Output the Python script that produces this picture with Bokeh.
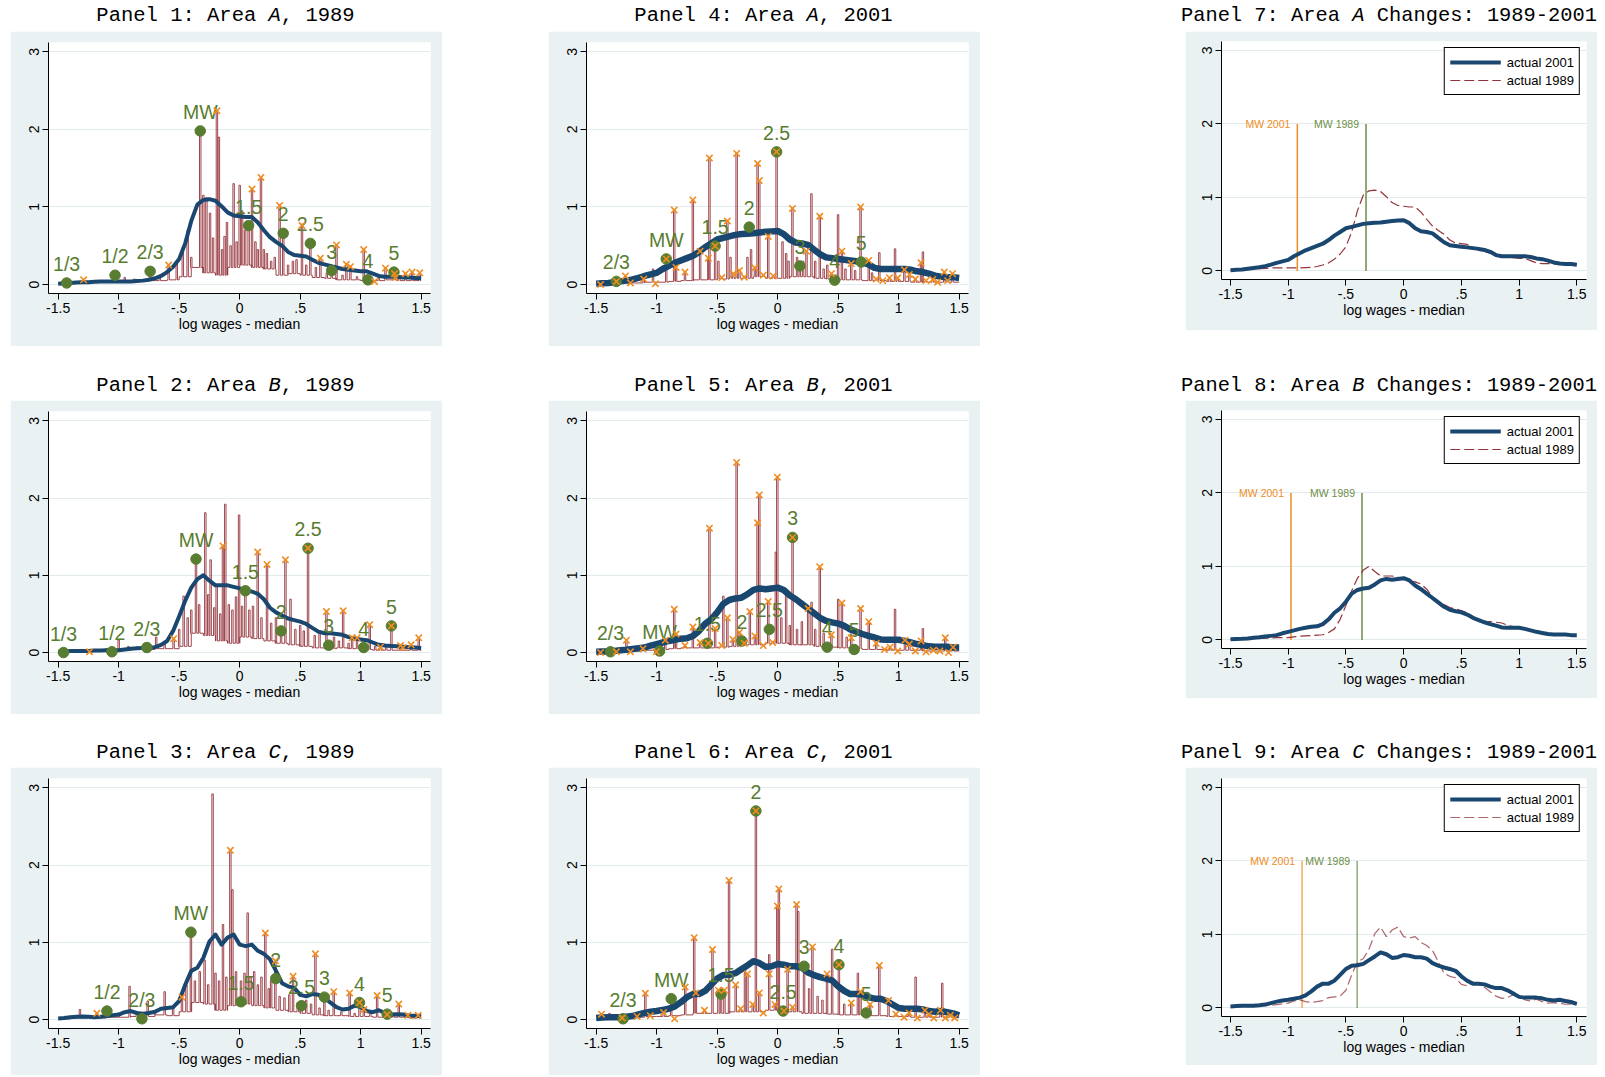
from bokeh.plotting import figure
from bokeh.layouts import row, column
from bokeh.models import (Range1d, Spacer, Legend, LegendItem, FixedTicker,
                          CustomJSTickFormatter)
from bokeh.core.properties import value
from bokeh.embed import file_html
from bokeh.resources import INLINE

# ---------------------------------------------------------------- data
X_TICKS = [-1.5, -1, -0.5, 0, 0.5, 1, 1.5]
Y_TICKS = [0, 1, 2, 3]
GRID_X = [round(-1.5 + 0.05 * i, 2) for i in range(61)]      # kernel grid
BIN_EDGES = [round(-1.5 + 0.1 * i, 1) for i in range(31)]    # histogram floor bins

# kernel densities (smooth blue lines)
KD_A89 = [0.01,0.015,0.02,0.025,0.03,0.03,0.035,0.04,0.04,0.04,0.04,
          0.04,0.04,0.045,0.05,0.06,0.08,0.11,0.16,0.23,0.33,
          0.53,0.82,1.03,1.09,1.10,1.08,1.01,0.93,0.89,0.88,
          0.87,0.87,0.80,0.70,0.61,0.55,0.50,0.42,0.38,0.37,
          0.36,0.32,0.28,0.26,0.24,0.22,0.20,0.19,0.18,0.17,
          0.17,0.14,0.11,0.10,0.10,0.10,0.09,0.09,0.085,0.08]
KD_B89 = [0.01,0.015,0.02,0.02,0.02,0.02,0.025,0.025,0.03,0.03,0.03,
          0.04,0.05,0.055,0.06,0.065,0.07,0.10,0.15,0.28,0.47,
          0.67,0.84,0.95,1.00,0.93,0.87,0.87,0.87,0.85,0.83,
          0.80,0.79,0.76,0.69,0.58,0.52,0.48,0.44,0.42,0.40,
          0.37,0.32,0.27,0.25,0.25,0.24,0.23,0.20,0.18,0.17,
          0.16,0.13,0.10,0.09,0.085,0.08,0.075,0.07,0.065,0.06]
KD_C89 = [0.015,0.02,0.03,0.035,0.04,0.035,0.03,0.035,0.045,0.055,0.065,
          0.095,0.11,0.085,0.075,0.085,0.10,0.14,0.15,0.16,0.24,
          0.45,0.63,0.67,0.80,1.01,1.10,0.97,1.06,1.10,0.97,
          0.95,0.97,0.89,0.85,0.78,0.63,0.47,0.43,0.41,0.32,
          0.30,0.33,0.32,0.28,0.22,0.16,0.13,0.14,0.18,0.16,
          0.11,0.095,0.12,0.085,0.065,0.07,0.065,0.05,0.05,0.045]
KD_A01 = [0.01,0.015,0.02,0.03,0.04,0.05,0.065,0.085,0.11,0.13,0.15,
          0.20,0.24,0.28,0.31,0.34,0.37,0.42,0.48,0.53,0.58,
          0.60,0.62,0.64,0.65,0.655,0.66,0.67,0.68,0.685,0.69,
          0.65,0.58,0.54,0.53,0.51,0.45,0.39,0.35,0.34,0.33,
          0.32,0.31,0.30,0.285,0.26,0.215,0.20,0.20,0.20,0.20,
          0.20,0.19,0.17,0.16,0.14,0.115,0.10,0.095,0.095,0.085]
KD_B01 = [0.01,0.012,0.015,0.02,0.03,0.035,0.045,0.055,0.065,0.09,0.11,
          0.13,0.15,0.165,0.18,0.185,0.215,0.28,0.37,0.43,0.52,
          0.63,0.68,0.70,0.71,0.755,0.81,0.83,0.82,0.83,0.84,
          0.81,0.74,0.69,0.63,0.57,0.51,0.45,0.41,0.39,0.375,
          0.345,0.30,0.27,0.24,0.215,0.195,0.17,0.165,0.165,0.165,
          0.15,0.13,0.11,0.095,0.08,0.075,0.075,0.075,0.065,0.065]
KD_C01 = [0.02,0.025,0.03,0.03,0.03,0.035,0.045,0.065,0.085,0.10,0.11,
          0.125,0.14,0.17,0.225,0.29,0.33,0.33,0.37,0.45,0.53,
          0.575,0.58,0.60,0.65,0.70,0.755,0.73,0.68,0.69,0.72,
          0.71,0.69,0.69,0.67,0.61,0.575,0.55,0.53,0.505,0.43,
          0.37,0.33,0.33,0.32,0.29,0.27,0.27,0.24,0.195,0.15,
          0.14,0.14,0.14,0.13,0.11,0.10,0.11,0.095,0.08,0.055]

# histogram floor (per 0.1 bin)
BASE_A89 = [0.02,0.03,0.03,0.03,0.04,0.04,0.04,0.05,0.05,0.06,0.10,0.22,0.15,0.12,0.22,
            0.25,0.22,0.20,0.12,0.14,0.12,0.09,0.08,0.06,0.06,0.05,0.05,0.06,0.05,0.05]
BASE_B89 = [0.01,0.01,0.02,0.02,0.02,0.03,0.04,0.04,0.05,0.05,0.08,0.25,0.22,0.15,0.12,
            0.20,0.18,0.15,0.12,0.10,0.08,0.06,0.05,0.06,0.05,0.04,0.03,0.03,0.03,0.03]
BASE_C89 = [0.01,0.02,0.02,0.02,0.03,0.03,0.04,0.04,0.06,0.05,0.10,0.22,0.20,0.12,0.18,
            0.20,0.18,0.15,0.12,0.10,0.08,0.06,0.05,0.05,0.04,0.04,0.03,0.03,0.03,0.02]
BASE_A01 = [0.01,0.01,0.02,0.02,0.03,0.03,0.04,0.05,0.06,0.06,0.07,0.08,0.08,0.10,0.08,
            0.08,0.10,0.10,0.08,0.07,0.06,0.06,0.05,0.05,0.04,0.04,0.03,0.03,0.03,0.03]
BASE_B01 = [0.01,0.01,0.02,0.02,0.03,0.04,0.05,0.06,0.06,0.06,0.07,0.08,0.10,0.10,0.12,
            0.12,0.10,0.10,0.08,0.07,0.06,0.05,0.04,0.04,0.03,0.03,0.03,0.02,0.02,0.02]
BASE_C01 = [0.02,0.02,0.02,0.03,0.04,0.04,0.05,0.06,0.08,0.08,0.08,0.10,0.10,0.10,0.12,
            0.10,0.10,0.08,0.08,0.07,0.06,0.06,0.05,0.05,0.04,0.04,0.03,0.03,0.03,0.03]

# histogram spikes (x, height)
SPK_A89 = [(-1.43,0.03),(-1.29,0.06),(-1.18,0.05),(-1.03,0.12),(-0.95,0.09),(-0.87,0.07),
           (-0.74,0.17),(-0.66,0.10),(-0.587,0.25),(-0.52,0.30),(-0.47,0.48),(-0.43,0.70),
           (-0.40,0.35),(-0.326,1.98),(-0.30,1.15),(-0.275,1.12),(-0.245,0.92),(-0.22,0.60),
           (-0.188,2.24),(-0.172,1.90),(-0.145,0.45),(-0.125,0.62),(-0.105,0.80),(-0.075,0.50),
           (-0.05,1.30),(-0.025,0.55),(0.0,1.28),(0.02,0.95),(0.045,0.70),(0.074,0.76),
           (0.102,1.23),(0.13,0.55),(0.15,0.45),(0.176,1.38),(0.20,0.45),(0.225,0.40),
           (0.26,0.30),(0.29,0.35),(0.33,1.02),(0.36,0.66),(0.40,0.25),(0.44,0.30),(0.47,0.32),
           (0.515,0.78),(0.55,0.25),(0.584,0.53),(0.63,0.22),(0.667,0.34),(0.72,0.15),
           (0.76,0.18),(0.80,0.51),(0.85,0.12),(0.882,0.26),(0.915,0.23),(0.97,0.10),
           (1.025,0.45),(1.06,0.06),(1.15,0.10),(1.205,0.21),(1.275,0.16),(1.32,0.10),
           (1.37,0.14),(1.425,0.16),(1.488,0.15)]
SPK_B89 = [(-1.456,0.02),(-1.36,0.04),(-1.241,0.02),(-1.10,0.05),(-1.0,0.16),(-0.92,0.08),
           (-0.85,0.07),(-0.767,0.07),(-0.69,0.20),(-0.62,0.12),(-0.546,0.18),(-0.50,0.30),
           (-0.463,0.73),(-0.43,0.45),(-0.40,0.55),(-0.361,1.21),(-0.335,0.62),(-0.284,1.81),
           (-0.26,0.75),(-0.24,1.20),(-0.21,0.58),(-0.19,0.88),(-0.16,0.50),(-0.138,1.38),
           (-0.119,1.92),(-0.09,0.62),(-0.06,0.55),(-0.03,0.72),(-0.005,1.78),(0.02,0.60),
           (0.047,0.80),(0.08,0.55),(0.11,0.60),(0.149,1.30),(0.18,0.45),(0.226,1.14),
           (0.26,0.38),(0.30,0.45),(0.342,0.28),(0.378,1.20),(0.42,0.69),(0.46,0.30),
           (0.50,0.35),(0.53,0.28),(0.565,1.35),(0.62,0.22),(0.66,0.25),(0.717,0.53),
           (0.736,0.10),(0.78,0.20),(0.82,0.15),(0.855,0.54),(0.90,0.12),(0.929,0.19),
           (0.97,0.19),(1.025,0.07),(1.075,0.36),(1.12,0.08),(1.163,0.07),(1.21,0.10),
           (1.254,0.345),(1.329,0.09),(1.417,0.10),(1.48,0.19)]
SPK_C89 = [(-1.40,0.04),(-1.32,0.13),(-1.25,0.05),(-1.18,0.08),(-1.097,0.11),(-1.00,0.08),
           (-0.91,0.43),(-0.85,0.10),(-0.76,0.24),(-0.70,0.12),(-0.62,0.36),(-0.55,0.15),
           (-0.477,0.29),(-0.44,0.45),(-0.403,1.13),(-0.37,0.50),(-0.33,0.62),(-0.29,0.77),
           (-0.26,0.45),(-0.224,2.92),(-0.20,0.60),(-0.17,0.50),(-0.138,1.23),(-0.11,0.55),
           (-0.077,2.19),(-0.06,1.68),(-0.03,0.62),(0.011,0.50),(0.04,0.60),(0.066,1.38),
           (0.09,0.55),(0.12,0.62),(0.15,0.45),(0.18,0.55),(0.212,1.12),(0.24,0.40),
           (0.26,0.50),(0.295,0.76),(0.33,0.30),(0.37,0.28),(0.41,0.32),(0.441,0.56),
           (0.48,0.22),(0.511,0.18),(0.55,0.25),(0.59,0.20),(0.626,0.85),(0.66,0.15),
           (0.70,0.29),(0.735,0.12),(0.777,0.36),(0.84,0.10),(0.909,0.345),(0.95,0.08),
           (0.99,0.22),(1.026,0.13),(1.08,0.08),(1.136,0.31),(1.219,0.07),(1.27,0.06),
           (1.315,0.20),(1.39,0.055),(1.475,0.055)]
SPK_A01 = [(-1.333,0.04),(-1.258,0.11),(-1.217,0.02),(-1.107,0.07),(-1.03,0.20),(-0.921,0.33),
           (-0.855,0.96),(-0.84,0.22),(-0.766,0.16),(-0.701,1.09),(-0.641,0.43),(-0.573,0.34),
           (-0.564,1.63),(-0.517,0.495),(-0.49,0.30),(-0.462,0.09),(-0.416,0.82),(-0.39,0.35),
           (-0.366,0.14),(-0.339,1.69),(-0.316,0.18),(-0.276,0.095),(-0.25,0.35),(-0.22,0.45),
           (-0.188,0.215),(-0.166,1.56),(-0.152,1.34),(-0.119,0.12),(-0.078,0.62),(-0.037,0.11),
           (-0.009,1.71),(0.04,0.55),(0.07,0.40),(0.09,0.30),(0.122,0.98),(0.16,0.35),
           (0.183,0.24),(0.21,0.30),(0.238,0.43),(0.279,1.17),(0.31,0.30),(0.348,0.88),
           (0.38,0.20),(0.41,0.25),(0.444,0.14),(0.471,0.06),(0.499,0.90),(0.531,0.43),
           (0.56,0.20),(0.608,0.27),(0.64,0.18),(0.685,1.0),(0.753,0.31),(0.78,0.15),
           (0.814,0.07),(0.84,0.41),(0.869,0.05),(0.924,0.086),(0.97,0.46),(0.992,0.086),
           (1.047,0.19),(1.088,0.13),(1.138,0.07),(1.185,0.28),(1.20,0.42),(1.226,0.05),
           (1.281,0.065),(1.322,0.03),(1.377,0.16),(1.404,0.05),(1.445,0.14)]
SPK_B01 = [(-1.333,0.01),(-1.25,0.16),(-1.113,0.05),(-0.929,0.16),(-0.855,0.56),(-0.84,0.24),
           (-0.766,0.09),(-0.701,0.33),(-0.641,0.13),(-0.573,0.12),(-0.564,1.61),(-0.517,0.31),
           (-0.462,0.09),(-0.449,0.73),(-0.416,0.45),(-0.37,0.17),(-0.339,2.46),(-0.316,0.26),
           (-0.276,0.12),(-0.23,0.53),(-0.188,0.215),(-0.166,1.68),(-0.152,2.04),(-0.119,0.09),
           (-0.078,0.66),(-0.041,0.13),(-0.015,1.30),(-0.003,2.27),(0.03,0.45),(0.07,0.82),
           (0.10,0.35),(0.123,1.49),(0.16,0.30),(0.20,0.40),(0.252,0.57),(0.28,0.65),
           (0.31,0.30),(0.348,1.11),(0.38,0.25),(0.409,0.10),(0.444,0.23),(0.50,0.69),
           (0.531,0.64),(0.57,0.20),(0.608,0.19),(0.632,0.06),(0.685,0.57),(0.753,0.40),
           (0.814,0.12),(0.883,0.04),(0.929,0.07),(0.97,0.56),(1.052,0.16),(1.088,0.11),
           (1.185,0.15),(1.20,0.31),(1.287,0.03),(1.385,0.19),(1.45,0.07)]
SPK_C01 = [(-1.456,0.07),(-1.39,0.08),(-1.286,0.02),(-1.162,0.04),(-1.094,0.34),(-1.053,0.05),
           (-0.943,0.09),(-0.88,0.20),(-0.764,0.42),(-0.69,1.06),(-0.676,0.345),(-0.605,0.12),
           (-0.539,0.905),(-0.49,0.38),(-0.468,0.33),(-0.44,0.38),(-0.402,1.80),(-0.347,0.45),
           (-0.306,0.14),(-0.27,0.65),(-0.25,0.59),(-0.206,0.195),(-0.18,2.70),(-0.152,0.345),
           (-0.119,0.086),(-0.07,0.84),(-0.023,0.195),(-0.003,1.47),(0.01,1.69),(0.045,0.11),
           (0.082,0.65),(0.123,0.16),(0.156,1.49),(0.17,1.40),(0.218,0.69),(0.26,0.40),
           (0.287,0.94),(0.33,0.30),(0.37,0.25),(0.408,0.59),(0.45,0.91),(0.506,0.71),
           (0.55,0.20),(0.608,0.215),(0.663,0.60),(0.685,0.36),(0.732,0.086),(0.764,0.195),
           (0.84,0.70),(0.916,0.245),(0.977,0.07),(1.045,0.03),(1.086,0.086),(1.14,0.55),
           (1.217,0.12),(1.25,0.07),(1.345,0.12),(1.36,0.47),(1.427,0.055)]

# orange "x" markers (x, y)
XM_A89 = [(-1.29,0.06),(-0.587,0.25),(-0.188,2.24),(0.102,1.23),(0.176,1.38),(0.33,1.02),
          (0.515,0.76),(0.667,0.34),(0.80,0.51),(0.882,0.26),(0.915,0.23),(1.025,0.45),
          (1.114,0.04),(1.205,0.21),(1.28,0.14),(1.287,0.09),(1.37,0.14),(1.425,0.16),(1.488,0.15)]
XM_B89 = [(-1.241,0.01),(-0.546,0.18),(-0.138,1.38),(0.149,1.30),(0.226,1.14),(0.378,1.20),
          (0.565,1.35),(0.717,0.53),(0.855,0.54),(0.929,0.19),(0.970,0.19),(1.075,0.36),
          (1.163,0.07),(1.254,0.345),(1.329,0.09),(1.35,0.065),(1.417,0.10),(1.48,0.19)]
XM_C89 = [(-1.18,0.08),(-0.477,0.29),(-0.077,2.19),(0.212,1.12),(0.295,0.76),(0.441,0.56),
          (0.626,0.85),(0.777,0.36),(0.909,0.345),(0.99,0.22),(1.026,0.13),(1.136,0.31),
          (1.219,0.065),(1.315,0.20),(1.39,0.055),(1.475,0.055)]
XM_A01 = [(-1.464,0.0),(-1.333,0.04),(-1.258,0.11),(-1.217,0.02),(-1.107,0.07),(-1.01,0.01),
          (-0.921,0.33),(-0.855,0.96),(-0.84,0.22),(-0.766,0.16),(-0.701,1.09),(-0.641,0.43),
          (-0.573,0.34),(-0.564,1.63),(-0.517,0.495),(-0.462,0.09),(-0.416,0.82),(-0.366,0.14),
          (-0.339,1.69),(-0.316,0.18),(-0.276,0.095),(-0.188,0.215),(-0.166,1.56),(-0.152,1.34),
          (-0.119,0.12),(-0.078,0.62),(-0.037,0.11),(-0.009,1.71),(0.122,0.98),(0.238,0.43),
          (0.348,0.88),(0.444,0.14),(0.531,0.43),(0.608,0.27),(0.685,1.0),(0.753,0.31),
          (0.814,0.07),(0.869,0.05),(0.924,0.086),(0.992,0.086),(1.047,0.19),(1.088,0.13),
          (1.138,0.07),(1.185,0.28),(1.226,0.05),(1.281,0.065),(1.322,0.03),(1.377,0.16),
          (1.404,0.05),(1.445,0.14)]
XM_B01 = [(-1.464,0.0),(-1.333,0.01),(-1.25,0.16),(-1.217,0.01),(-1.113,0.05),(-1.003,0.01),
          (-0.929,0.16),(-0.855,0.56),(-0.84,0.24),(-0.766,0.09),(-0.701,0.33),(-0.641,0.13),
          (-0.564,1.61),(-0.573,0.12),(-0.517,0.31),(-0.462,0.09),(-0.416,0.45),(-0.37,0.17),
          (-0.339,2.46),(-0.316,0.26),(-0.276,0.12),(-0.23,0.53),(-0.188,0.215),(-0.166,1.68),
          (-0.152,2.04),(-0.119,0.09),(-0.078,0.66),(-0.041,0.13),(-0.003,2.27),(0.123,1.49),
          (0.252,0.57),(0.348,1.11),(0.444,0.23),(0.531,0.64),(0.608,0.19),(0.685,0.57),
          (0.753,0.40),(0.814,0.12),(0.883,0.04),(0.929,0.07),(0.992,0.02),(1.052,0.16),
          (1.088,0.11),(1.138,0.02),(1.185,0.15),(1.226,0.01),(1.287,0.03),(1.34,0.02),
          (1.385,0.19),(1.412,0.0),(1.45,0.07)]
XM_C01 = [(-1.456,0.07),(-1.286,0.02),(-1.162,0.04),(-1.094,0.34),(-1.053,0.05),(-0.943,0.09),
          (-0.852,0.01),(-0.764,0.42),(-0.69,1.06),(-0.676,0.345),(-0.605,0.12),(-0.539,0.905),
          (-0.49,0.38),(-0.44,0.38),(-0.402,1.80),(-0.347,0.45),(-0.306,0.14),(-0.25,0.59),
          (-0.206,0.195),(-0.18,2.70),(-0.152,0.345),(-0.119,0.086),(-0.07,0.59),(-0.023,0.195),
          (-0.003,1.47),(0.01,1.69),(0.052,0.11),(0.082,0.65),(0.123,0.16),(0.156,1.49),
          (0.287,0.94),(0.408,0.59),(0.506,0.71),(0.608,0.215),(0.685,0.36),(0.764,0.195),
          (0.84,0.70),(0.916,0.245),(0.977,0.07),(1.045,0.03),(1.086,0.086),(1.154,0.02),
          (1.217,0.12),(1.25,0.07),(1.29,0.02),(1.345,0.12),(1.385,0.02),(1.427,0.055),(1.463,0.02)]

# green dots with multiple-of-minimum-wage labels
LAB_89 = ["1/3", "1/2", "2/3", "MW", "1.5", "2", "2.5", "3", "4", "5"]
LAB_C89 = ["1/2", "2/3", "MW", "1.5", "2", "2.5", "3", "4", "5"]
LAB_01 = ["2/3", "MW", "1.5", "2", "2.5", "3", "4", "5"]
DOT_A89_X = [-1.43, -1.03, -0.74, -0.326, 0.074, 0.36, 0.584, 0.76, 1.06, 1.275]
DOT_A89_Y = [0.02, 0.12, 0.17, 1.98, 0.76, 0.66, 0.53, 0.18, 0.06, 0.16]
DOT_B89_X = [-1.456, -1.056, -0.767, -0.361, 0.047, 0.342, 0.565, 0.736, 1.025, 1.254]
DOT_B89_Y = [0.0, 0.01, 0.065, 1.21, 0.80, 0.28, 1.35, 0.095, 0.065, 0.345]
DOT_C89_X = [-1.097, -0.808, -0.403, 0.011, 0.298, 0.511, 0.70, 0.99, 1.219]
DOT_C89_Y = [0.11, 0.01, 1.13, 0.23, 0.53, 0.18, 0.29, 0.22, 0.07]
DOT_A01_X = [-1.333, -0.921, -0.517, -0.235, -0.009, 0.183, 0.471, 0.69]
DOT_A01_Y = [0.04, 0.33, 0.495, 0.74, 1.71, 0.24, 0.056, 0.29]
DOT_B01_X = [-1.382, -0.976, -0.581, -0.296, -0.069, 0.123, 0.409, 0.632]
DOT_B01_Y = [0.01, 0.02, 0.12, 0.15, 0.30, 1.49, 0.07, 0.04]
DOT_C01_X = [-1.278, -0.88, -0.468, -0.18, 0.045, 0.218, 0.506, 0.732]
DOT_C01_Y = [0.01, 0.27, 0.33, 2.70, 0.11, 0.69, 0.71, 0.086]

# minimum wage positions (log wage - median)
MW89 = {"A": -0.326, "B": -0.361, "C": -0.403}
MW01 = {"A": -0.921, "B": -0.976, "C": -0.88}

# ---------------------------------------------------------------- style
BOX_BG = "#eaf1f3"
NAVY = "#1a476f"
MAROON = "#93323a"
GREEN = "#587c30"
ORANGE = "#ef8d22"
MW_GREEN = "#6d8d48"
SANS = "Liberation Sans"
MONO = "Liberation Mono"


def style_axes(p):
    p.xaxis.ticker = FixedTicker(ticks=X_TICKS)
    p.xaxis.formatter = CustomJSTickFormatter(code="return tick.toString().replace('0.', '.');")
    p.yaxis.ticker = FixedTicker(ticks=Y_TICKS)
    p.yaxis.major_label_orientation = "vertical"
    for ax in (p.xaxis[0], p.yaxis[0]):
        ax.axis_line_color = "black"
        ax.axis_line_width = 1
        ax.major_tick_line_color = "black"
        ax.major_tick_out = 6
        ax.major_tick_in = 0
        ax.minor_tick_line_color = None
        ax.major_label_text_font = SANS
        ax.major_label_text_font_size = "14px"
        ax.major_label_text_color = "black"
        ax.major_label_standoff = 3
    p.xaxis.axis_label = "log wages - median"
    p.xaxis.axis_label_text_font = SANS
    p.xaxis.axis_label_text_font_size = "14px"
    p.xaxis.axis_label_text_font_style = "normal"
    p.xaxis.axis_label_text_color = "black"
    p.xaxis.axis_label_standoff = 0
    p.xgrid.visible = False
    p.ygrid.ticker = FixedTicker(ticks=Y_TICKS)
    p.ygrid.grid_line_color = "#e1eaed"
    p.ygrid.grid_line_width = 1.2


def base_fig(w, h, lb, rb, tb, bb, xr, yr):
    p = figure(width=w, height=h, x_range=Range1d(*xr), y_range=Range1d(*yr),
               output_backend="svg", toolbar_location=None,
               min_border_left=lb, min_border_right=rb,
               min_border_top=tb, min_border_bottom=bb)
    p.border_fill_color = BOX_BG
    p.background_fill_color = "white"
    p.outline_line_color = None
    style_axes(p)
    return p


def title_fig(w, h, cx, cy, pieces, fs=20.5):
    """pieces: list of (text, italic) in order; each is placed on a monospace grid."""
    p = figure(width=w, height=h, x_range=Range1d(0, w), y_range=Range1d(0, h),
               output_backend="svg", toolbar_location=None, min_border=0,
               x_axis_location=None, y_axis_location=None)
    p.grid.visible = False
    p.outline_line_color = None
    p.border_fill_color = "white"
    p.background_fill_color = "white"
    cw = 0.6 * fs
    n = sum(len(t) for t, _ in pieces)
    x = cx - n * cw / 2
    y = h - cy
    for t, ital in pieces:
        stripped = t.lstrip(" ")
        lead = len(t) - len(stripped)
        core = stripped.rstrip(" ")
        if core:
            p.text(x=[x + lead * cw], y=[y], text=[core], text_font=value(MONO),
                   text_font_size=f"{fs}px", text_baseline="middle", text_align="left",
                   text_color="black", text_font_style="italic" if ital else "normal")
        x += len(t) * cw
    # wrap in a row so the column does not align its frame with the panels below
    return row(p)


def hist_path(base, spikes, w=0.012):
    xs, ys = [], []
    sp = sorted(spikes)
    for i, b in enumerate(base):
        lo, hi = BIN_EDGES[i], BIN_EDGES[i + 1]
        xs.append(lo)
        ys.append(b)
        for sx, sy in sp:
            if lo <= sx < hi:
                top = max(sy, b)
                xs += [sx - w / 2, sx - w / 2, sx + w / 2, sx + w / 2]
                ys += [b, top, top, b]
        xs.append(hi)
        ys.append(b)
    return xs, ys


def hist_panel(h, tb, bb, kd, base, spikes, xmarks, dx, dy, labs, kd_width):
    p = base_fig(432, h, 38, 12, tb, bb, (-1.58, 1.577), (-0.116, 3.12))
    hx, hy = hist_path(base, spikes)
    p.line(hx, hy, line_color=MAROON, line_width=0.9)
    p.line(GRID_X, kd, line_color=NAVY, line_width=kd_width, line_join="round")
    p.scatter(dx, dy, size=10.5, marker="circle", fill_color=GREEN, line_color=GREEN)
    p.text(x=dx, y=dy, text=labs, text_font=value(SANS), text_font_size="19.5px",
           text_color=GREEN, text_align="center", text_baseline="middle", y_offset=-19)
    p.scatter([m[0] for m in xmarks], [m[1] for m in xmarks], marker="x", size=9,
              line_color=ORANGE, line_width=1.6)
    return row(p)


def change_panel(h, tb, bb, kd01, kd89, mw01, mw89, alpha=1.0):
    p = base_fig(412, h, 36, 11, tb, bb, (-1.578, 1.584), (-0.117, 3.122))
    p.segment(x0=[mw01], y0=[0], x1=[mw01], y1=[2], line_color=ORANGE, line_width=1.5,
              line_alpha=alpha)
    p.segment(x0=[mw89], y0=[0], x1=[mw89], y1=[2], line_color=MW_GREEN, line_width=1.5,
              line_alpha=alpha)
    p.text(x=[mw01], y=[2], text=["MW 2001"], x_offset=-7, text_align="right",
           text_baseline="middle", text_font=value(SANS), text_font_size="10.5px",
           text_color=ORANGE)
    p.text(x=[mw89], y=[2], text=["MW 1989"], x_offset=-7, text_align="right",
           text_baseline="middle", text_font=value(SANS), text_font_size="10.5px",
           text_color=MW_GREEN)
    r89 = p.line(GRID_X, kd89, line_color=MAROON, line_width=1.2, line_dash="10 4",
                 line_alpha=alpha)
    r01 = p.line(GRID_X, kd01, line_color=NAVY, line_width=4, line_join="round")
    legend = Legend(items=[LegendItem(label="actual 2001", renderers=[r01]),
                           LegendItem(label="actual 1989", renderers=[r89])],
                    location="top_right")
    legend.border_line_color = "black"
    legend.border_line_width = 1
    legend.border_line_alpha = 1
    legend.background_fill_color = "white"
    legend.background_fill_alpha = 1
    legend.label_text_font = SANS
    legend.label_text_font_size = "13px"
    legend.label_text_color = "black"
    legend.glyph_width = 51
    legend.glyph_height = 18
    legend.label_height = 18
    legend.label_standoff = 6
    legend.padding = 5
    legend.spacing = 0
    legend.margin = 6
    p.add_layout(legend)
    return row(Spacer(width=6, height=10), p)


# ---------------------------------------------------------------- panels
p1 = hist_panel(315, 11, 53, KD_A89, BASE_A89, SPK_A89, XM_A89, DOT_A89_X, DOT_A89_Y, LAB_89, 4)
p2 = hist_panel(314, 11, 53, KD_B89, BASE_B89, SPK_B89, XM_B89, DOT_B89_X, DOT_B89_Y, LAB_89, 4)
p3 = hist_panel(308, 11, 47, KD_C89, BASE_C89, SPK_C89, XM_C89, DOT_C89_X, DOT_C89_Y, LAB_C89, 4)
p4 = hist_panel(315, 11, 53, KD_A01, BASE_A01, SPK_A01, XM_A01, DOT_A01_X, DOT_A01_Y, LAB_01, 6.5)
p5 = hist_panel(314, 11, 53, KD_B01, BASE_B01, SPK_B01, XM_B01, DOT_B01_X, DOT_B01_Y, LAB_01, 6.5)
p6 = hist_panel(308, 11, 47, KD_C01, BASE_C01, SPK_C01, XM_C01, DOT_C01_X, DOT_C01_Y, LAB_01, 6.5)
p7 = change_panel(299, 10, 51, KD_A01, KD_A89, MW01["A"], MW89["A"])
p8 = change_panel(298, 10, 50, KD_B01, KD_B89, MW01["B"], MW89["B"])
p9 = change_panel(298, 11, 49, KD_C01, KD_C89, MW01["C"], MW89["C"], alpha=0.75)


def t12(n, area, year):
    return [(f"Panel {n}: Area ", False), (area, True), (f", {year}", False)]


def t3(n, area):
    return [(f"Panel {n}: Area ", False), (area, True), (" Changes: 1989-2001", False)]


col1 = column(title_fig(432, 31, 215, 15, t12(1, "A", 1989)), p1,
              title_fig(432, 54, 215, 39, t12(2, "B", 1989)), p2,
              title_fig(432, 53, 215, 38, t12(3, "C", 1989)), p3)
col2 = column(title_fig(432, 31, 215, 15, t12(4, "A", 2001)), p4,
              title_fig(432, 54, 215, 39, t12(5, "B", 2001)), p5,
              title_fig(432, 53, 215, 38, t12(6, "C", 2001)), p6)
col3 = column(title_fig(418, 31, 209.5, 15, t3(7, "A"), fs=20.4), p7,
              title_fig(418, 70, 209.5, 55, t3(8, "B"), fs=20.4), p8,
              title_fig(418, 69, 209.5, 54, t3(9, "C"), fs=20.4), p9)

layout = row(Spacer(width=10, height=10), col1, Spacer(width=106, height=10), col2,
             Spacer(width=199, height=10), col3)

open("out.html", "w").write(file_html(layout, INLINE))
